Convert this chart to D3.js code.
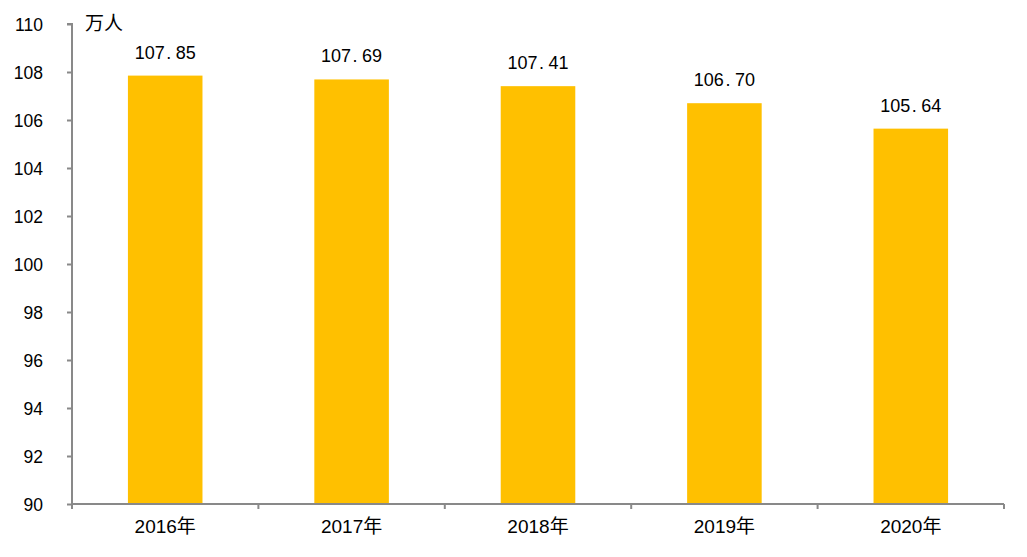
<!DOCTYPE html>
<html><head><meta charset="utf-8">
<script src="https://cdn.jsdelivr.net/npm/d3@7"></script>
<style>body{margin:0;background:#fff}</style>
</head><body><svg id="c" width="1027" height="557"></svg>
<script>
const categories = ["2016年","2017年","2018年","2019年","2020年"];
const values = [107.85, 107.69, 107.41, 106.70, 105.64];
const yTicks = [90,92,94,96,98,100,102,104,106,108,110];
const unit = "万人";

const svg = d3.select("#c");
const m = {left:72, right:1027-1004, top:24, bottom:557-504};
const W = 1027, H = 557;
const x = d3.scaleBand().domain(categories).range([m.left, W-m.right]).paddingInner(0.6).paddingOuter(0.3);
const xb = d3.scaleBand().domain(categories).range([m.left, W-m.right]);
const y = d3.scaleLinear().domain([90,110]).range([H-m.bottom, m.top]);
const axisColor = "#898989";

svg.selectAll("rect.bar").data(values).join("rect")
  .attr("class","bar")
  .attr("x",(d,i)=>x(categories[i]))
  .attr("width",x.bandwidth())
  .attr("y",d=>y(d))
  .attr("height",d=>y(90)-y(d))
  .attr("fill","#FFC000");

const lbl = svg.selectAll("text.lbl").data(values).join("text")
  .attr("class","lbl")
  .attr("x",(d,i)=>x(categories[i])+x.bandwidth()/2)
  .attr("y",d=>y(d)-17)
  .attr("text-anchor","middle")
  .attr("font-family","Liberation Sans, Arial, sans-serif")
  .attr("font-size",18)
  .attr("fill","#000");
lbl.each(function(d){
  const parts = d.toFixed(2).split(".");
  const t = d3.select(this);
  t.append("tspan").text(parts[0]);
  t.append("tspan").attr("dx",1.5).text(".");
  t.append("tspan").attr("dx",4.5).text(parts[1]);
});

// y axis
const ya = svg.append("g").attr("transform",`translate(${m.left},0)`)
  .call(d3.axisLeft(y).tickValues(yTicks).tickSize(5).tickPadding(24).tickFormat(d3.format("d")));
ya.select(".domain").attr("stroke",axisColor).attr("stroke-width",2).attr("d",`M-5,${y(110)}H0V${y(90)}`);
ya.selectAll(".tick line").attr("stroke",axisColor).attr("stroke-width",2);
ya.selectAll(".tick text").attr("font-family","Liberation Sans, Arial, sans-serif").attr("font-size",17.5).attr("fill","#000").attr("dy","0.35em");

// x axis
const xa = svg.append("g").attr("transform",`translate(0,${y(90)})`)
  .call(d3.axisBottom(xb).tickSize(0).tickPadding(17));
xa.select(".domain").attr("stroke",axisColor).attr("stroke-width",2).attr("d",`M${m.left},0H${W-m.right}`);
xa.selectAll(".tick text").attr("font-family","Liberation Sans, Noto Sans CJK SC, sans-serif").attr("font-size",19).attr("fill","#000").attr("dy","0.62em");
const bounds = categories.map(c=>xb(c)).concat([W-m.right]);
xa.selectAll("line.sep").data(bounds).join("line").attr("class","sep")
  .attr("x1",d=>d).attr("x2",d=>d).attr("y1",0).attr("y2",5)
  .attr("stroke",axisColor).attr("stroke-width",2);

svg.append("text").attr("x",85).attr("y",30)
  .attr("font-family","Noto Sans CJK SC, sans-serif").attr("font-size",19).attr("fill","#000")
  .text(unit);
</script></body></html>
